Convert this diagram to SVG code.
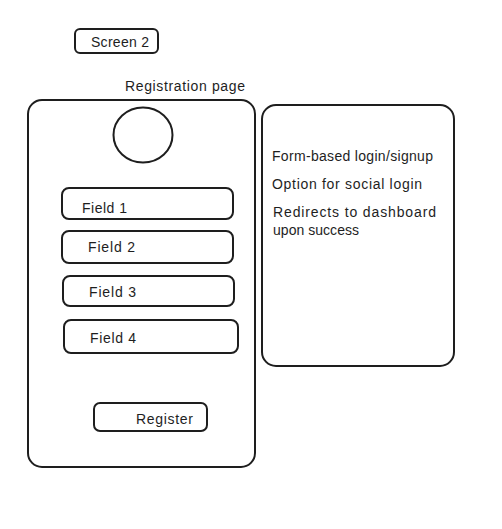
<svg xmlns="http://www.w3.org/2000/svg" width="502" height="529" viewBox="0 0 502 529">
<style>
.b{fill:none;stroke:#1e1e1e;stroke-width:2;stroke-linecap:round;stroke-linejoin:round}
.t{font-family:"Liberation Sans","DejaVu Sans",sans-serif;font-size:14px;fill:#1e1e1e}
</style>
<rect width="502" height="529" fill="#ffffff"/>
<g id="screen2">
<rect class="b" x="75" y="29" width="83" height="24" rx="5"/>
<text class="t" x="91" y="47" textLength="58">Screen 2</text>
</g>
<g id="title">
<text class="t" x="125" y="91" textLength="120">Registration page</text>
</g>
<g id="phone">
<rect class="b" x="28" y="100" width="227" height="367" rx="14"/>
</g>
<g id="avatar">
<ellipse class="b" cx="143" cy="135" rx="29.5" ry="27.5"/>
</g>
<g id="field1">
<rect class="b" x="62" y="188" width="171" height="31" rx="7"/>
<text class="t" x="82" y="213" textLength="45">Field 1</text>
</g>
<g id="field2">
<rect class="b" x="62" y="231" width="171" height="32" rx="7"/>
<text class="t" x="88" y="252" textLength="47">Field 2</text>
</g>
<g id="field3">
<rect class="b" x="63" y="276" width="171" height="30" rx="7"/>
<text class="t" x="89" y="297" textLength="47">Field 3</text>
</g>
<g id="field4">
<rect class="b" x="64" y="320" width="174" height="33" rx="7"/>
<text class="t" x="90" y="343" textLength="46">Field 4</text>
</g>
<g id="register">
<rect class="b" x="94" y="403" width="113" height="28" rx="6"/>
<text class="t" x="136" y="424" textLength="57">Register</text>
</g>
<g id="notes">
<rect class="b" x="262" y="105" width="192" height="261" rx="14"/>
<text class="t" x="272" y="161" textLength="161">Form-based login/signup</text>
<text class="t" x="272" y="189" textLength="150">Option for social login</text>
<text class="t" x="273" y="217" textLength="163">Redirects to dashboard</text>
<text class="t" x="273" y="235" textLength="86">upon success</text>
</g>
<g id="connectors"></g>
</svg>
